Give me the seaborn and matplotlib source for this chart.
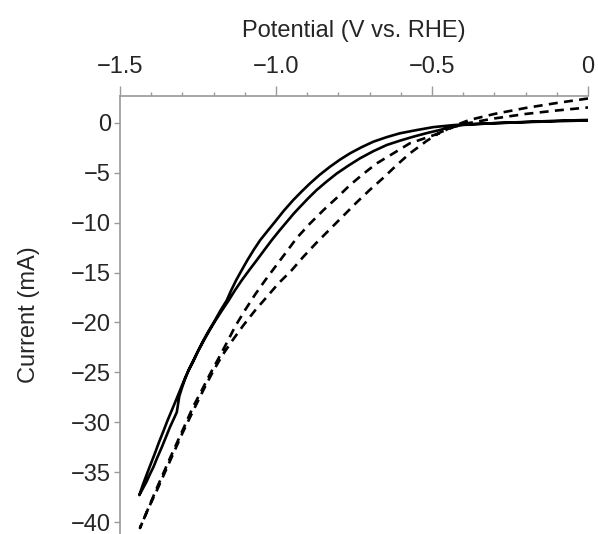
import numpy as np
import pandas as pd
import matplotlib
matplotlib.use("Agg")
import matplotlib.pyplot as plt
import seaborn as sns
from matplotlib.ticker import FixedLocator, MultipleLocator

# ---- data ----
# solid scan, branch with less negative current
solid_a_v = [0.0, -0.1, -0.2, -0.3, -0.389, -0.432, -0.496, -0.55, -0.603, -0.645, -0.688,
             -0.725, -0.763, -0.795, -0.827, -0.86, -0.891, -0.918, -0.945, -0.975, -1.003,
             -1.027, -1.051, -1.072, -1.092, -1.11, -1.128, -1.144, -1.158, -1.178, -1.196,
             -1.215, -1.233, -1.25, -1.265, -1.28, -1.292, -1.305, -1.318, -1.334, -1.348,
             -1.361, -1.375, -1.388, -1.401, -1.414, -1.426, -1.438]
solid_a_i = [0.25, 0.17, 0.08, -0.03, -0.13, -0.22, -0.42, -0.72, -1.04, -1.42, -1.88,
             -2.42, -3.05, -3.68, -4.39, -5.2, -6.06, -6.88, -7.74, -8.8, -9.9,
             -10.82, -11.76, -12.75, -13.77, -14.76, -15.78, -16.8, -17.79, -18.8, -19.8,
             -20.8, -21.8, -22.85, -23.8, -24.75, -25.6, -26.6, -27.6, -28.8, -29.85,
             -30.9, -32.0, -33.1, -34.15, -35.2, -36.2, -37.3]
# solid scan, return branch
solid_b_v = [0.0, -0.1, -0.2, -0.3, -0.4, -0.44, -0.474, -0.517, -0.56, -0.603, -0.645,
             -0.688, -0.731, -0.768, -0.805, -0.838, -0.870, -0.897, -0.923, -0.943, -0.961,
             -0.988, -1.014, -1.038, -1.062, -1.086, -1.110, -1.132, -1.153, -1.175, -1.196,
             -1.215, -1.233, -1.25, -1.265, -1.28, -1.292, -1.302, -1.31, -1.318, -1.329,
             -1.340, -1.353, -1.366, -1.38, -1.393, -1.404, -1.414, -1.426, -1.438]
solid_b_i = [0.3, 0.22, 0.1, -0.02, -0.2, -0.4, -0.70, -1.02, -1.38, -1.78, -2.21,
             -2.83, -3.55, -4.28, -5.06, -5.88, -6.73, -7.56, -8.41, -9.08, -9.75,
             -10.75, -11.76, -12.76, -13.77, -14.76, -15.78, -16.8, -17.85, -18.88, -19.9,
             -20.9, -21.9, -22.9, -23.9, -24.8, -25.7, -26.6, -27.4, -29.0, -29.75,
             -30.5, -31.5, -32.5, -33.5, -34.5, -35.2, -35.9, -36.6, -37.3]
# dashed scan, first branch
dash_a_v = [0.0, -0.1, -0.2, -0.3, -0.38, -0.43, -0.474, -0.52, -0.571, -0.624, -0.677,
            -0.720, -0.763, -0.805, -0.848, -0.891, -0.934, -0.966, -1.003, -1.035, -1.067,
            -1.099, -1.131, -1.153, -1.179, -1.212, -1.238, -1.265, -1.292, -1.308, -1.334,
            -1.361, -1.382, -1.409, -1.436]
dash_a_i = [2.45, 2.0, 1.5, 0.9, 0.3, -0.3, -1.0, -1.5, -2.04, -3.05, -4.05,
            -5.1, -6.23, -7.5, -8.74, -10.08, -11.55, -12.9, -14.44, -15.78, -17.2,
            -18.75, -20.4, -21.75, -23.3, -25.2, -26.8, -28.4, -30.3, -31.4, -33.2,
            -35.1, -36.6, -38.6, -40.6]
# dashed scan, return branch
dash_b_v = [0.0, -0.1, -0.2, -0.3, -0.38, -0.43, -0.474, -0.517, -0.571, -0.613, -0.656,
            -0.699, -0.741, -0.784, -0.827, -0.870, -0.912, -0.950, -0.993, -1.030, -1.067,
            -1.105, -1.142, -1.17, -1.20, -1.23, -1.26, -1.30, -1.34, -1.38, -1.41, -1.436]
dash_b_i = [1.55, 1.25, 0.9, 0.45, 0.0, -0.4, -0.95, -1.8, -3.05, -4.22, -5.5,
            -6.7, -7.95, -9.3, -10.65, -12.0, -13.4, -14.77, -16.11, -17.46, -18.79,
            -20.3, -21.9, -23.2, -24.8, -26.6, -28.5, -31.1, -33.9, -36.7, -38.7, -40.6]

x_ticks = [-1.5, -1.0, -0.5, 0.0]
x_tick_labels = ["\u22121.5", "\u22121.0", "\u22120.5", "0"]
y_ticks = [0, -5, -10, -15, -20, -25, -30, -35, -40]
y_tick_labels = ["0", "\u22125", "\u221210", "\u221215", "\u221220", "\u221225", "\u221230", "\u221235", "\u221240"]


def loop(va, ia, vb, ib):
    v = list(va) + list(vb)[::-1]
    i = list(ia) + list(ib)[::-1]
    return pd.DataFrame({"V": v, "I": i})


solid = loop(solid_a_v, solid_a_i, solid_b_v, solid_b_i)
dashed = loop(dash_a_v, dash_a_i, dash_b_v, dash_b_i)

sns.set_style("ticks")
plt.rcParams["font.family"] = ["Liberation Sans", "DejaVu Sans"]

fig = plt.figure(figsize=(5.98, 5.34), dpi=100)
ax = fig.add_axes([120 / 598, 0.0, 468 / 598, 1 - 96 / 534])

sns.lineplot(data=solid, x="V", y="I", sort=False, estimator=None, color="black",
             lw=1.9, ax=ax, solid_joinstyle="round")
sns.lineplot(data=dashed, x="V", y="I", sort=False, estimator=None, color="black",
             lw=1.9, linestyle=(0, (3.4, 2.4)), ax=ax)

ax.set_xlim(-1.5, 0.0)
ax.set_ylim(-41.2, 2.7)

ax.xaxis.tick_top()
ax.xaxis.set_label_position("top")
ax.xaxis.set_major_locator(FixedLocator(x_ticks))
ax.set_xticklabels(x_tick_labels)
ax.xaxis.set_minor_locator(MultipleLocator(0.1))
ax.set_yticks(y_ticks)
ax.set_yticklabels(y_tick_labels)

ax.set_xlabel("Potential (V vs. RHE)", fontsize=17, labelpad=14)
ax.set_ylabel("Current (mA)", fontsize=17, labelpad=22)

gray = "#9a9a9a"
for s in ["right", "bottom"]:
    ax.spines[s].set_visible(False)
for s in ["left", "top"]:
    ax.spines[s].set_color(gray)
    ax.spines[s].set_linewidth(1.2)

ax.tick_params(axis="x", which="major", direction="out", length=7, width=1.0,
               color=gray, labelsize=17, pad=6, top=True, bottom=False)
ax.tick_params(axis="x", which="minor", direction="out", length=3.2, width=1.0,
               color=gray, top=True, bottom=False)
ax.tick_params(axis="y", which="major", direction="out", length=4.5, width=1.0,
               color=gray, labelsize=17, pad=2)

fig.savefig("out.png", dpi=100)
